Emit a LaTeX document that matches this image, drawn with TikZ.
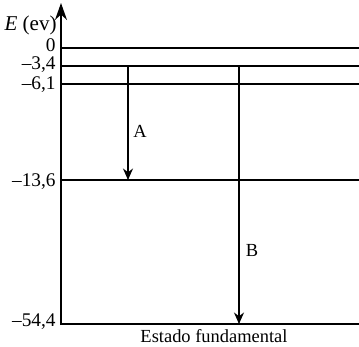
\documentclass[tikz,border=0pt]{standalone}
\usepackage{fontspec}
\setmainfont{Liberation Serif}
\usetikzlibrary{arrows.meta,positioning}

\begin{document}
\begin{tikzpicture}[x=0.02cm, y=-0.02cm,
  lvl/.style={line width=0.9pt},
  lbl/.style={anchor=east, inner sep=0pt, font=\fontsize{11pt}{13pt}\selectfont},
  txt/.style={inner sep=0pt, font=\fontsize{10.5pt}{12pt}\selectfont},
  arr/.style={-{Stealth[length=2.3mm, width=2mm]}, line width=0.6pt}]
\useasboundingbox (0,0) rectangle (359,346);
% axis
\coordinate (orig) at (61,325);
\coordinate (top) at (61,3);
\draw[line width=0.9pt, -{Stealth[length=3.4mm, width=2.4mm]}] (orig) -- (top);
\node[lbl, font=\fontsize{12pt}{14pt}\selectfont] (eaxis) at (57,25) {\textit{E} (ev)};
% energy levels
\coordinate (e0) at (61,48);   \coordinate (e0r) at (359,48);
\coordinate (e1) at (61,66);   \coordinate (e1r) at (359,66);
\coordinate (e2) at (61,84);   \coordinate (e2r) at (359,84);
\coordinate (e3) at (61,180);  \coordinate (e3r) at (359,180);
\coordinate (e4) at (61,324);  \coordinate (e4r) at (359,324);
\foreach \n in {e0,e1,e2,e3,e4}
  \draw[lvl] (\n) -- (\n r);
\node[lbl] (l0) at (56,45) {0};
\node[lbl] (l1) at (56,65) {\textendash3,4};
\node[lbl] (l2) at (56,85) {\textendash6,1};
\node[lbl] (l3) at (56,182) {\textendash13,6};
\node[lbl] (l4) at (56,322) {\textendash54,4};
% transitions
\coordinate (aup) at (128,66);  \coordinate (adn) at (128,180);
\coordinate (bup) at (239,66);  \coordinate (bdn) at (239,324);
\draw[arr] (aup) -- (adn);
\draw[arr] (bup) -- (bdn);
\node[txt] (la) at (140,131) {A};
\node[txt] (lb) at (252,250) {B};
\node[txt] (fund) at (214,336) {Estado fundamental};
\end{tikzpicture}
\end{document}
